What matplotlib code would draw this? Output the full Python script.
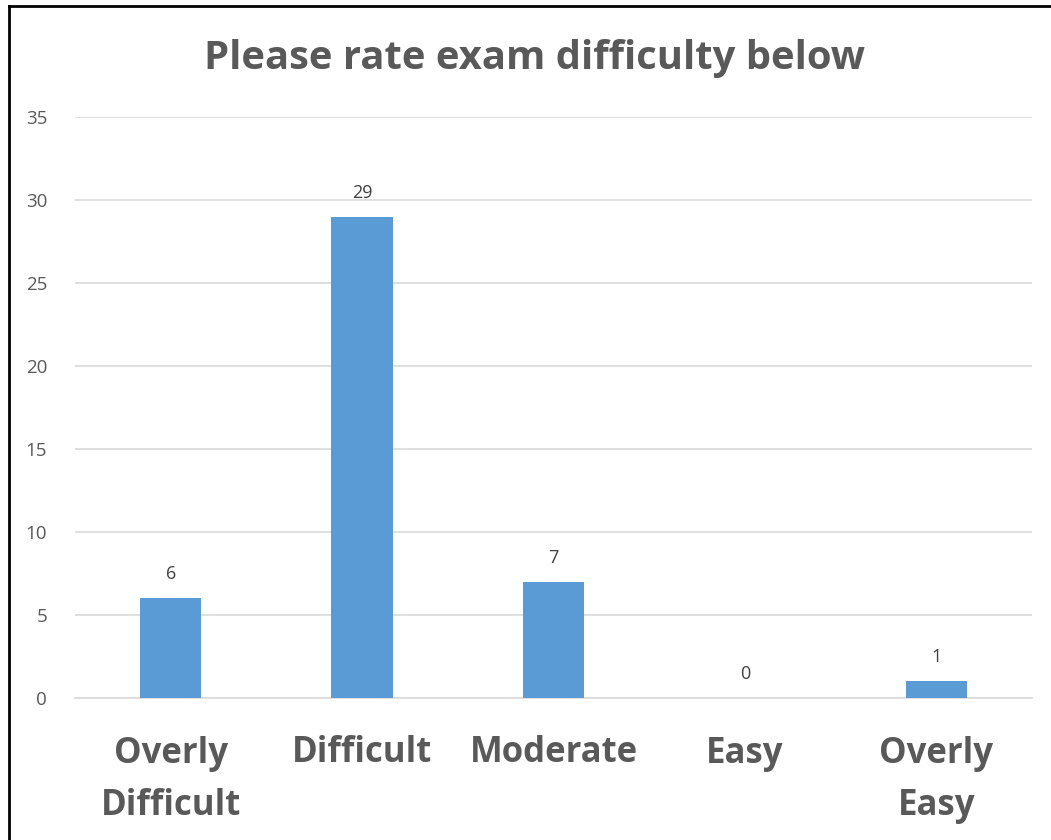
import matplotlib
matplotlib.use("Agg")
from matplotlib import pyplot as plt
from matplotlib.lines import Line2D

# data
categories = ["Overly\nDifficult", "Difficult", "Moderate", "Easy", "Overly\nEasy"]
counts = [6, 29, 7, 0, 1]
yticks = [0, 5, 10, 15, 20, 25, 30, 35]

plt.rcParams['font.family'] = ['Open Sans', 'DejaVu Sans']
grey = '#595959'

fig = plt.figure(figsize=(10.51, 8.4), dpi=100)
ax = fig.add_axes([75 / 1051, 1 - 698 / 840, 957 / 1051, 581 / 840])

x = range(len(categories))
ax.bar(x, counts, width=0.32, color='#5B9BD5', zorder=3)
for i, v in zip(x, counts):
    ax.text(i, v + 0.9, str(v), ha='center', va='bottom', fontsize=13, color='#404040')

ax.set_xlim(-0.5, len(categories) - 0.5)
ax.set_ylim(0, 35)
ax.set_yticks(yticks)
ax.set_xticks(list(x))
ax.set_xticklabels(categories, fontsize=25, fontweight='bold', color=grey, linespacing=1.6)
ax.tick_params(axis='x', length=0, pad=27)
ax.tick_params(axis='y', length=0, pad=20, labelsize=13.5, labelcolor=grey)
ax.grid(axis='y', color='#D9D9D9', linewidth=1.2, zorder=0)
for s in ['top', 'right', 'left']:
    ax.spines[s].set_visible(False)
ax.spines['bottom'].set_color('#D9D9D9')
ax.spines['bottom'].set_linewidth(1.2)

fig.text(535 / 1051, 1 - 58 / 840, "Please rate exam difficulty below", ha='center', va='center',
         fontsize=28.8, fontweight='bold', color=grey)

# outer chart border (left and top only, the rest is cropped)
fig.add_artist(Line2D([9 / 1051, 9 / 1051], [0, 1 - 6 / 840], color='black', linewidth=2,
                      transform=fig.transFigure))
fig.add_artist(Line2D([9 / 1051, 1], [1 - 6 / 840, 1 - 6 / 840], color='black', linewidth=2,
                      transform=fig.transFigure))

plt.savefig('out.png', dpi=100)
